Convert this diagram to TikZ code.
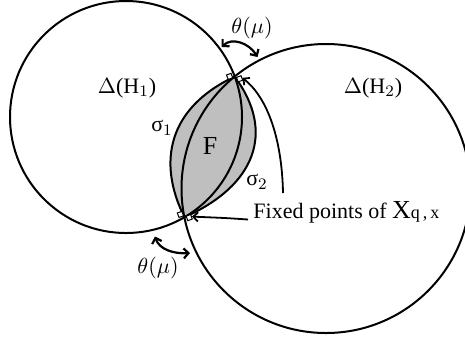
\documentclass[tikz,border=0pt]{standalone}
\usepackage{fontspec}
\setmainfont{Liberation Serif}
\usetikzlibrary{arrows.meta}
\begin{document}
\begin{tikzpicture}[x=0.5pt,y=-0.5pt,
  curve/.style={line width=1pt},
  lbl/.style={font=\fontsize{11}{13}\selectfont, inner sep=0pt},
  mlbl/.style={font=\fontsize{10.5}{12}\selectfont, inner sep=0pt},
  fpbox/.style={draw, fill=white, line width=0.5pt, minimum size=2.4pt, inner sep=0pt},
  dblarrow/.style={line width=1.1pt, {Straight Barb[length=2.4pt,width=5pt]}-{Straight Barb[length=2.4pt,width=5pt]}},
  ptr/.style={line width=0.9pt, -{Straight Barb[length=2.4pt,width=4.6pt]}}]
\useasboundingbox (0,0) rectangle (465,339);
\clip (0,0) rectangle (465,339);
% fixed points
\coordinate (T) at (234.6,76.6);
\coordinate (B) at (184.4,217.2);
\coordinate (C1) at (126,117);
\coordinate (C2) at (326,188.5);
% shaded region F
\filldraw[curve, fill=black!25] (T) .. controls (168,108) and (157,162) .. (B)
  .. controls (255,186) and (276,132) .. (T);
% the two discs
\draw[curve] (C1) circle (116);
\draw[curve] (C2) circle (144.5);
% small squares at the fixed points
\node[fpbox, rotate=20] (t1) at (229.6,76.4) {};
\node[fpbox, rotate=20] (t2) at (239.6,78.8) {};
\node[fpbox, rotate=20] (b1) at (180.4,214.4) {};
\node[fpbox, rotate=20] (b2) at (189.2,217.6) {};
% labels
\node[lbl] (h1) at (127,88) {$\Delta$(H$_1$)};
\node[lbl] (h2) at (373,88) {$\Delta$(H$_2$)};
\node[lbl] (s1) at (162,128) {σ$_1$};
\node[lbl] (s2) at (257,182) {σ$_2$};
\node[font=\fontsize{13}{15}\selectfont, inner sep=0pt] (F) at (210,146) {F};
\node[lbl, anchor=base west] (fix) at (253,218.5)
  {Fixed points of {\fontsize{13}{15}\selectfont X}{\fontsize{9}{11}\selectfont q\,,\,x}};
\node[mlbl] (th1) at (252,28) {$\theta(\mu)$};
\node[mlbl] (th2) at (158,268) {$\theta(\mu)$};
% angle arrows
\coordinate (a1) at (221.5,47);
\coordinate (a2) at (257.5,57);
\draw[dblarrow] (a1) .. controls (232,37) and (249,43) .. (a2);
\coordinate (a3) at (155,236.5);
\coordinate (a4) at (190,253);
\draw[dblarrow] (a3) .. controls (159,249) and (173,254) .. (a4);
% pointers to fixed points
\coordinate (p1) at (248,219.5);
\coordinate (p2) at (283,193);
\draw[ptr] (p1) .. controls (226,218) .. (b2.east);
\draw[ptr] (p2) .. controls (282,140) and (268,98) .. (t2.east);
\end{tikzpicture}
\end{document}
